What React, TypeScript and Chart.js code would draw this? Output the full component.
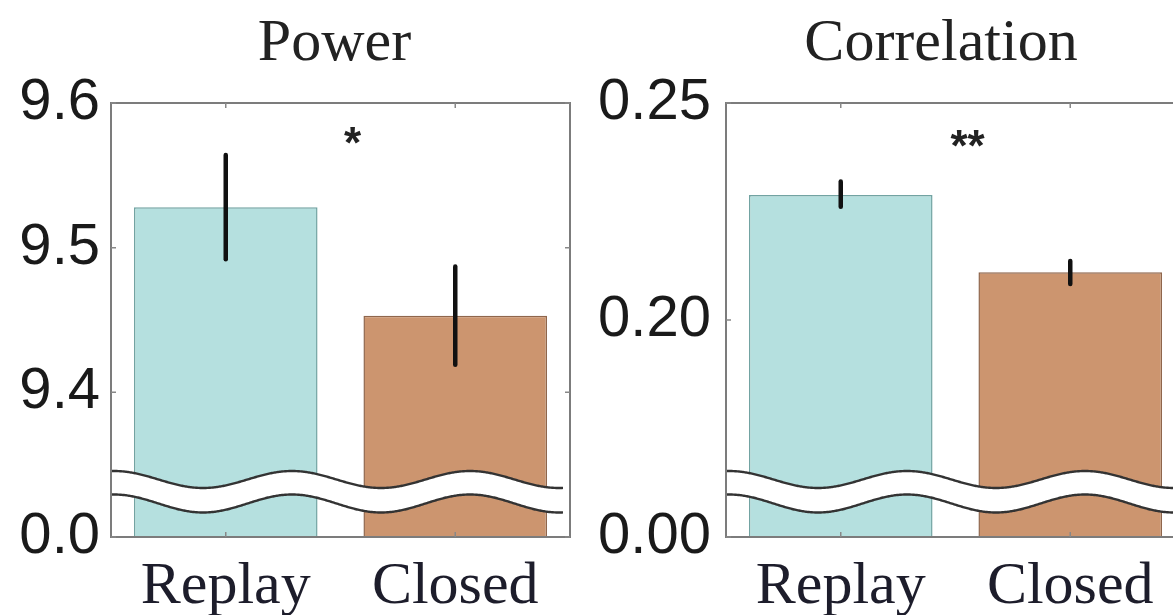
import React, { useEffect, useRef } from "react";
import { Chart, registerables } from "chart.js";

Chart.register(...registerables);

// ---- data ----
const categories = ["Replay", "Closed"];

const powerValues = [9.528, 9.453];
const powerErrLow = [9.492, 9.419];
const powerErrHigh = [9.564, 9.487];
const powerTickValues = [9.3, 9.4, 9.5, 9.6];
const powerTickLabels = ["0.0", "9.4", "9.5", "9.6"];
const powerSigText = "*";
const powerSigY = 9.576;

const corrValues = [0.2288, 0.211];
const corrErrLow = [0.2261, 0.2083];
const corrErrHigh = [0.2319, 0.2136];
const corrTickValues = [0.15, 0.2, 0.25];
const corrTickLabels = ["0.00", "0.20", "0.25"];
const corrSigText = "**";
const corrSigY = 0.2415;

const barColors = ["#b5e0df", "#cc956f"];
const barBorders = ["#72a3a2", "#8f664c"];

const SERIF = "'Liberation Serif', 'Times New Roman', serif";
const SANS = "'Liberation Sans', Arial, sans-serif";

type PanelCfg = {
  title: string;
  titleOffset: number;
  values: number[];
  errLow: number[];
  errHigh: number[];
  tickValues: number[];
  tickLabels: string[];
  sigText: string;
  sigY: number;
  yAxisWidth: number;
  padRight: number;
  labelPad: number;
};

function makePlugin(cfg: PanelCfg) {
  return {
    id: "panelDecor",
    afterDatasetsDraw(chart: any) {
      const { ctx, chartArea: a, scales } = chart;
      const xs = scales.x;
      const ys = scales.y;
      ctx.save();

      // axis break band
      const period = 178;
      const phase = (px: number) => Math.cos((2 * Math.PI * (px - a.left - 3)) / period);
      const waveTop = (px: number) => a.bottom - 57.5 - 8.5 * phase(px);
      const waveBot = (px: number) => a.bottom - 33.5 - 9 * phase(px);
      const x0 = a.left;
      const x1 = Math.min(a.left + 452, a.right + 20);
      ctx.beginPath();
      for (let px = x0; px <= x1; px += 1) {
        const yy = waveTop(px);
        if (px === x0) ctx.moveTo(px, yy);
        else ctx.lineTo(px, yy);
      }
      for (let px = x1; px >= x0; px -= 1) ctx.lineTo(px, waveBot(px));
      ctx.closePath();
      ctx.fillStyle = "#ffffff";
      ctx.fill();
      ctx.strokeStyle = "#333333";
      ctx.lineWidth = 2.4;
      for (const f of [waveTop, waveBot]) {
        ctx.beginPath();
        for (let px = x0; px <= x1; px += 1) {
          const yy = f(px);
          if (px === x0) ctx.moveTo(px, yy);
          else ctx.lineTo(px, yy);
        }
        ctx.stroke();
      }

      // box
      ctx.strokeStyle = "#7c7c7c";
      ctx.lineWidth = 2;
      ctx.strokeRect(a.left, a.top, a.right - a.left, a.bottom - a.top);

      // inner tick marks
      ctx.lineWidth = 1.5;
      ctx.strokeStyle = "#888888";
      const tl = 5;
      cfg.tickValues.forEach((v) => {
        const py = ys.getPixelForValue(v);
        ctx.beginPath();
        ctx.moveTo(a.left, py);
        ctx.lineTo(a.left + tl, py);
        ctx.moveTo(a.right, py);
        ctx.lineTo(a.right - tl, py);
        ctx.stroke();
      });
      categories.forEach((_, i) => {
        const px = xs.getPixelForValue(i);
        ctx.beginPath();
        ctx.moveTo(px, a.top);
        ctx.lineTo(px, a.top + tl);
        ctx.moveTo(px, a.bottom);
        ctx.lineTo(px, a.bottom - tl);
        ctx.stroke();
      });

      // error bars
      ctx.strokeStyle = "#111111";
      ctx.lineWidth = 4.5;
      ctx.lineCap = "round";
      cfg.values.forEach((_, i) => {
        const px = xs.getPixelForValue(i);
        ctx.beginPath();
        ctx.moveTo(px, ys.getPixelForValue(cfg.errLow[i]));
        ctx.lineTo(px, ys.getPixelForValue(cfg.errHigh[i]));
        ctx.stroke();
      });

      // significance marker
      const sigSize = 44;
      ctx.fillStyle = "#222222";
      ctx.font = `bold ${sigSize}px ${SANS}`;
      ctx.textAlign = "center";
      ctx.textBaseline = "alphabetic";
      const mid = (xs.getPixelForValue(0) + xs.getPixelForValue(1)) / 2 + 12;
      ctx.fillText(cfg.sigText, mid, ys.getPixelForValue(cfg.sigY) + 0.47 * sigSize);

      // title
      ctx.fillStyle = "#222222";
      ctx.font = `60px ${SERIF}`;
      ctx.fillText(cfg.title, a.left + cfg.titleOffset, 60);
      ctx.restore();
    },
  };
}

function Panel({ cfg, left, width }: { cfg: PanelCfg; left: number; width: number }) {
  const ref = useRef<HTMLCanvasElement | null>(null);
  useEffect(() => {
    if (!ref.current) return;
    const yMin = cfg.tickValues[0];
    const yMax = cfg.tickValues[cfg.tickValues.length - 1];
    const chart = new Chart(ref.current, {
      type: "bar",
      data: {
        labels: categories,
        datasets: [
          {
            data: cfg.values,
            backgroundColor: barColors,
            borderColor: barBorders,
            borderWidth: 1.5,
            barPercentage: 1,
            categoryPercentage: 0.8,
            base: yMin,
          } as any,
        ],
      },
      options: {
        responsive: false,
        animation: false,
        devicePixelRatio: 1,
        layout: { padding: { top: 103, right: cfg.padRight, left: 0, bottom: 0 } },
        plugins: { legend: { display: false }, tooltip: { enabled: false }, title: { display: false } },
        scales: {
          x: {
            type: "category",
            afterFit: (s: any) => {
              s.height = 78;
            },
            grid: { display: false, drawTicks: false },
            border: { display: false },
            ticks: {
              font: { family: SERIF, size: 60 },
              color: "#1d1d2b",
              padding: 14,
              maxRotation: 0,
              autoSkip: false,
            },
          },
          y: {
            type: "linear",
            min: yMin,
            max: yMax,
            afterBuildTicks: (s: any) => {
              s.ticks = cfg.tickValues.map((v) => ({ value: v }));
            },
            afterFit: (s: any) => {
              s.width = cfg.yAxisWidth;
            },
            grid: { display: false, drawTicks: false },
            border: { display: false },
            ticks: {
              autoSkip: false,
              callback: (_v: any, i: number) => cfg.tickLabels[i],
              font: { family: SANS, size: 58 },
              color: "#1a1a1a",
              padding: cfg.labelPad,
            },
          },
        },
      } as any,
      plugins: [makePlugin(cfg)],
    });
    return () => chart.destroy();
  }, []);
  return (
    <canvas
      ref={ref}
      width={width}
      height={615}
      style={{ position: "absolute", left, top: 0, width, height: 615 }}
    />
  );
}

const powerCfg: PanelCfg = {
  title: "Power",
  titleOffset: 223.5,
  values: powerValues,
  errLow: powerErrLow,
  errHigh: powerErrHigh,
  tickValues: powerTickValues,
  tickLabels: powerTickLabels,
  sigText: powerSigText,
  sigY: powerSigY,
  yAxisWidth: 111,
  padRight: 30,
  labelPad: 11,
};

const corrCfg: PanelCfg = {
  title: "Correlation",
  titleOffset: 215,
  values: corrValues,
  errLow: corrErrLow,
  errHigh: corrErrHigh,
  tickValues: corrTickValues,
  tickLabels: corrTickLabels,
  sigText: corrSigText,
  sigY: corrSigY,
  yAxisWidth: 126,
  padRight: 35,
  labelPad: 15,
};

export default function App() {
  return (
    <div
      style={{
        position: "fixed",
        left: 0,
        top: 0,
        width: 1173,
        height: 615,
        overflow: "hidden",
        background: "#ffffff",
      }}
    >
      <Panel cfg={powerCfg} left={0} width={600} />
      <Panel cfg={corrCfg} left={600} width={620} />
    </div>
  );
}
